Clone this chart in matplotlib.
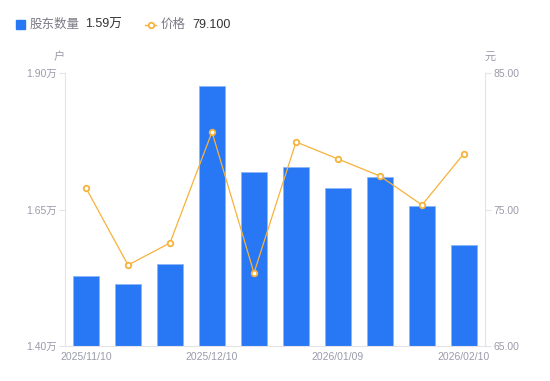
import numpy as np
import matplotlib.pyplot as plt
from matplotlib.lines import Line2D

plt.rcParams['font.family'] = ['Liberation Sans', 'Noto Sans CJK SC', 'DejaVu Sans']

# data
dates = ['2025/11/10', '2025/11/20', '2025/11/28', '2025/12/10', '2025/12/19',
         '2025/12/31', '2026/01/09', '2026/01/20', '2026/01/30', '2026/02/10']
holders = [1.528, 1.514, 1.550, 1.876, 1.719, 1.728, 1.689, 1.710, 1.656, 1.585]  # 万户
price = [76.57, 70.93, 72.55, 80.68, 70.35, 79.95, 78.70, 77.45, 75.33, 79.10]
left_ticks = [1.40, 1.65, 1.90]
right_ticks = [65.0, 75.0, 85.0]

bar_color = '#2878F5'
line_color = '#F7B23B'
axis_color = '#E3E3E8'
text_gray = '#9B9BAB'

fig = plt.figure(figsize=(5.5, 3.81), dpi=100)
W, H = 550, 381
ax = fig.add_axes([65 / W, 35 / H, 420 / W, 273 / H])
ax2 = ax.twinx()

x = np.arange(len(dates))
ax.bar(x, holders, width=0.6, color=bar_color, edgecolor='#8CB6F8', linewidth=0.6,
       bottom=0, zorder=2)
ax.set_ylim(left_ticks[0], left_ticks[-1])
ax.set_xlim(-0.5, len(dates) - 0.5)
ax.set_yticks(left_ticks)
ax.set_yticklabels([f'{v:.2f}万' for v in left_ticks])

ax2.plot(x, price, color=line_color, linewidth=0.9, marker='o', markersize=4,
         markerfacecolor='white', markeredgecolor=line_color, markeredgewidth=1.3, zorder=3)
ax2.set_ylim(right_ticks[0], right_ticks[-1])
ax2.set_yticks(right_ticks)
ax2.set_yticklabels([f'{v:.2f}' for v in right_ticks])

ax.set_xticks(x[::3])
ax.set_xticklabels([dates[i] for i in x[::3]])

for a in (ax, ax2):
    for s in a.spines.values():
        s.set_visible(False)
    a.tick_params(colors=axis_color, labelcolor=text_gray, labelsize=7.5, length=4, width=0.8)
ax.spines['left'].set_visible(True)
ax.spines['left'].set_color(axis_color)
ax.spines['bottom'].set_visible(True)
ax.spines['bottom'].set_color(axis_color)
ax2.spines['right'].set_visible(True)
ax2.spines['right'].set_color(axis_color)
ax.tick_params(axis='x', length=0, pad=4)
ax.tick_params(axis='y', pad=2)
ax2.tick_params(axis='y', pad=2)

# unit labels
fig.text(59 / W, 1 - 57 / H, '户', fontsize=8, color=text_gray, ha='center', va='center')
fig.text(490 / W, 1 - 57 / H, '元', fontsize=8, color=text_gray, ha='center', va='center')

# custom legend line at top
fig.patches.append(plt.Rectangle((16 / W, 1 - 29 / H), 9 / W, 9 / H, color=bar_color,
                                 transform=fig.transFigure, figure=fig))
fig.text(30 / W, 1 - 24.5 / H, '股东数量', fontsize=9, color='#7A7A86', va='center')
fig.text(85 / W, 1 - 24.5 / H, '1.59万', fontsize=9, color='#333333', va='center')
fig.lines.append(Line2D([145 / W, 156 / W], [1 - 24.5 / H, 1 - 24.5 / H], color=line_color,
                        linewidth=1, transform=fig.transFigure))
fig.lines.append(Line2D([150.5 / W], [1 - 24.5 / H], color=line_color, marker='o',
                        markersize=4, markerfacecolor='white', markeredgewidth=1.3,
                        linestyle='none', transform=fig.transFigure))
fig.text(161 / W, 1 - 24.5 / H, '价格', fontsize=9, color='#7A7A86', va='center')
fig.text(192 / W, 1 - 24.5 / H, '79.100', fontsize=9, color='#333333', va='center')

fig.savefig('out.png', dpi=100)
